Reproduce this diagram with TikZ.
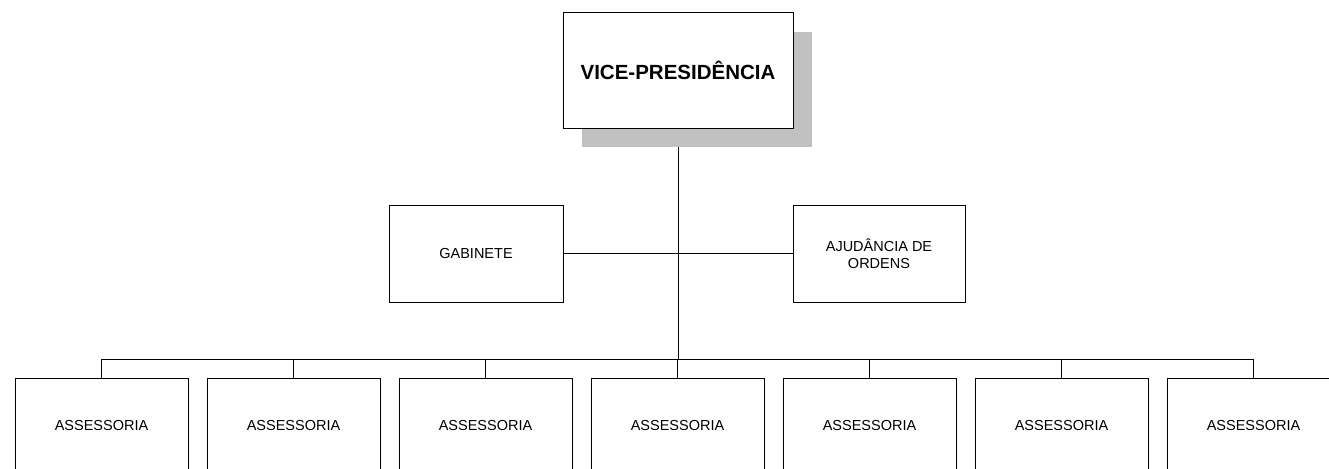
\documentclass[tikz,border=0pt]{standalone}
\usepackage{fontspec}
\setmainfont{Liberation Sans}
\usetikzlibrary{backgrounds}
\definecolor{shadowgray}{RGB}{192,192,192}
\begin{document}
\begin{tikzpicture}[x=1pt,y=-1pt,
  box/.style={draw, line width=1pt, fill=white, inner sep=0pt, align=center,
    font=\fontsize{14.5}{16.5}\selectfont},
  link/.style={line width=0.8pt}]
\useasboundingbox (0,0) rectangle (1329,468);
% top box with shadow
\node[fill=shadowgray, minimum width=230, minimum height=115, inner sep=0pt] (vpshadow) at (697,89.5) {};
\node[box, minimum width=230, minimum height=115, font=\bfseries\fontsize{20.5}{24}\selectfont] (vp) at (678,70.5) {VICE-PRESIDÊNCIA};
% staff boxes
\node[box, minimum width=174, minimum height=97] (gab) at (476,253.5) {GABINETE};
\node[box, minimum width=172, minimum height=97] (aju) at (879,253.5) {AJUDÂNCIA DE\\ORDENS};
% bottom row
\foreach \i in {0,...,6}{
  \node[box, minimum width=173, minimum height=96] (a\i) at ({101.5+192*\i},426) {ASSESSORIA};
}
\coordinate (busL) at (101.5,359);
\coordinate (busR) at (1253.5,359);
\coordinate (busC) at (678,359);
\begin{pgfonlayer}{background}
  \draw[link] (vp.south) -- (busC);
  \draw[link] (gab.east) -- (aju.west);
\end{pgfonlayer}
\draw[link] (busL) -- (busR);
\foreach \i in {0,...,6}{
  \draw[link] (a\i.north) -- (a\i.north |- busL);
}
\end{tikzpicture}
\end{document}
